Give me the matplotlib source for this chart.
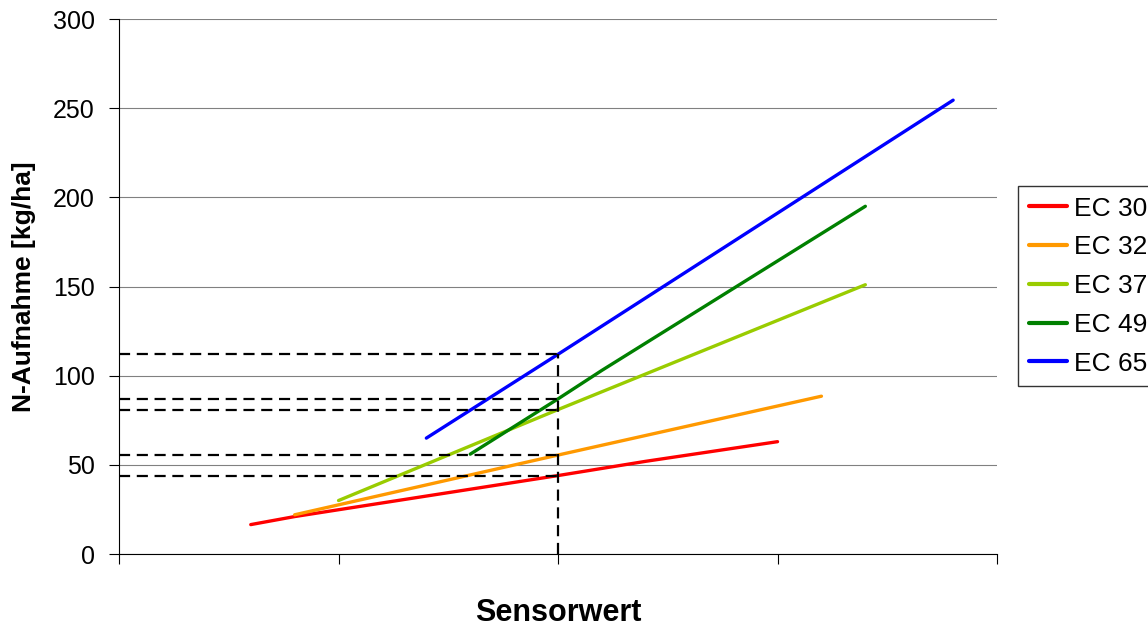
import matplotlib.pyplot as plt

plt.rcParams['font.family'] = ['Liberation Sans', 'DejaVu Sans']

# N uptake curves per growth stage (sensor value in axis units 0..4)
labels = ['EC 30', 'EC 32', 'EC 37', 'EC 49', 'EC 65']
colors = ['#ff0000', '#ff9900', '#99cc00', '#008000', '#0000ff']
x_ec30 = [0.6, 0.8, 2.0, 2.4, 3.0]
y_ec30 = [16.5, 21, 44, 52, 63]
x_ec32 = [0.8, 2.0, 3.0, 3.2]
y_ec32 = [22, 55.5, 83, 88.5]
x_ec37 = [1.0, 2.0, 3.4]
y_ec37 = [30, 81, 151]
x_ec49 = [1.6, 2.0, 2.2, 3.4]
y_ec49 = [56, 87, 103, 195]
x_ec65 = [1.4, 2.0, 3.8]
y_ec65 = [65, 112, 254.5]

sensor_read = 2.0
uptake_read = [112, 87, 81, 55.5, 44]

fig = plt.figure(figsize=(11.48, 6.28), dpi=100)
ax = fig.add_axes([0.1037, 0.1178, 0.7648, 0.8519])

series = [(x_ec30, y_ec30), (x_ec32, y_ec32), (x_ec37, y_ec37),
          (x_ec49, y_ec49), (x_ec65, y_ec65)]
for (xs, ys), lab, col in zip(series, labels, colors):
    ax.plot(xs, ys, color=col, lw=2.4, label=lab, solid_capstyle='round')

# read-off lines at the sensor value
for u in uptake_read:
    ax.plot([0, sensor_read], [u, u], color='black', lw=1.6, ls=(0, (5, 3)))
ax.plot([sensor_read, sensor_read], [0, max(uptake_read)], color='black', lw=1.6, ls=(0, (5, 3)))

ax.set_xlim(0, 4)
ax.set_ylim(0, 300)
ax.set_xticks([0, 1, 2, 3, 4])
ax.set_xticklabels([])
ax.set_yticks(range(0, 301, 50))
ax.yaxis.grid(True, color='#808080', lw=0.8)
ax.set_axisbelow(True)
for s in ['top', 'right']:
    ax.spines[s].set_visible(False)
ax.tick_params(axis='both', direction='out', length=7.5, width=0.8, labelsize=18)
ax.tick_params(axis='y', pad=10)

ax.set_ylabel('N-Aufnahme [kg/ha]', fontsize=19, fontweight='bold', labelpad=12)
ax.set_xlabel('Sensorwert', fontsize=22, fontweight='bold', labelpad=21)

leg = fig.legend(loc='upper left', bbox_to_anchor=(0.8868, 0.7038), fontsize=19,
                 frameon=True, fancybox=False, edgecolor='black', handlelength=1.44,
                 handletextpad=0.27, labelspacing=0.56, borderpad=0.4, borderaxespad=0)
leg.get_frame().set_linewidth(1.0)
for line in leg.get_lines():
    line.set_linewidth(3)

fig.savefig('out.png', dpi=100)
